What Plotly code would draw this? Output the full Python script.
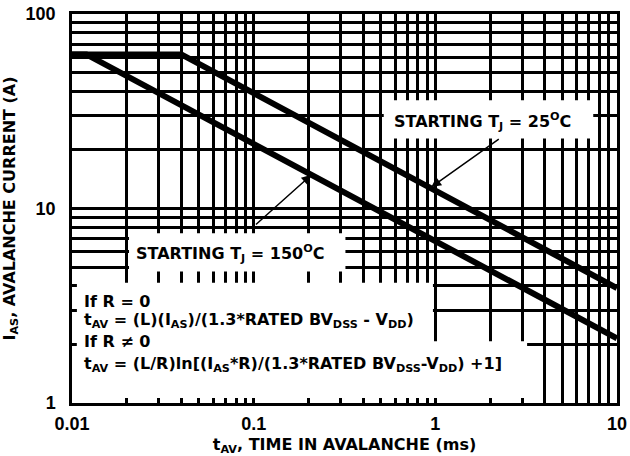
import numpy as np
import plotly.graph_objects as go

# Unclamped inductive switching capability: avalanche current vs. time in avalanche
t_25 = [0.01, 0.04, 10]       # ms
i_25 = [62, 62, 3.9]          # A
t_150 = [0.01, 0.012, 10]     # ms
i_150 = [62, 62, 2.15]        # A

x_ticks = [0.01, 0.1, 1, 10]
x_tick_text = ["0.01", "0.1", "1", "10"]
y_ticks = [1, 10, 100]
y_tick_text = ["1", "10", "100"]

X_MIN, X_MAX = 0.01, 10
Y_MIN, Y_MAX = 1, 100

W, H = 630, 456
M_L, M_R, M_T, M_B = 72, 3, 14, 53
PLOT_W = W - M_L - M_R
PLOT_H = H - M_T - M_B

TICK_FONT = "Liberation Sans, Arial, Helvetica, sans-serif"
TEXT_FONT = "DejaVu Sans, Liberation Sans, Arial, sans-serif"
INK = "black"


def xp(t):
    """Time (ms) -> paper fraction on the log x axis."""
    return float(np.log10(t / X_MIN) / np.log10(X_MAX / X_MIN))


def yp(i):
    """Current (A) -> paper fraction on the log y axis."""
    return float(np.log10(i / Y_MIN) / np.log10(Y_MAX / Y_MIN))


def minor_vals(lo_exp, hi_exp):
    return [m * 10.0 ** k for k in range(lo_exp, hi_exp) for m in range(2, 10)]


fig = go.Figure()
for t, i in ((t_25, i_25), (t_150, i_150)):
    fig.add_trace(go.Scatter(
        x=t, y=i, mode="lines",
        line=dict(color=INK, width=6),
        showlegend=False, hoverinfo="skip",
    ))

axis_common = dict(
    type="log",
    showline=True, linecolor=INK, linewidth=2.5, mirror=True,
    showgrid=True, gridcolor=INK, gridwidth=2.5,
    ticks="inside", ticklen=5, tickwidth=2, tickcolor=INK,
    zeroline=False,
    tickfont=dict(family=TICK_FONT, size=18, color=INK, weight="bold"),
)
title_font = dict(family=TEXT_FONT, size=16, color=INK, weight="bold")

fig.update_xaxes(
    **axis_common,
    range=[np.log10(X_MIN), np.log10(X_MAX)],
    tickvals=x_ticks, ticktext=x_tick_text,
    ticklabelstandoff=3, ticklabeloverflow="allow",
    minor=dict(tickvals=minor_vals(-2, 1), showgrid=True, gridcolor=INK,
               gridwidth=2.5, ticks="inside", ticklen=5, tickwidth=2,
               tickcolor=INK),
    title=dict(text="t<sub>AV</sub>, TIME IN AVALANCHE (ms)", standoff=6,
               font=title_font),
)
fig.update_yaxes(
    **axis_common,
    range=[np.log10(Y_MIN), np.log10(Y_MAX)],
    tickvals=y_ticks, ticktext=y_tick_text,
    ticklabelstandoff=10, ticklabeloverflow="allow",
    minor=dict(tickvals=minor_vals(0, 2), showgrid=True, gridcolor=INK,
               gridwidth=2.5, ticks="inside", ticklen=5, tickwidth=2,
               tickcolor=INK),
    title=dict(text="I<sub>AS</sub>, AVALANCHE CURRENT (A)", standoff=8,
               font=title_font),
)

# White panels that clear the grid behind the labels and the equations.
# Panels touching the frame stop a few pixels short of it so the grid
# stubs remain as inside tick marks.
GX = 5.0 / PLOT_W
GY = 5.0 / PLOT_H
panels = [
    # (t0, t1, i0, i1, inset_left, inset_bottom)
    (0.0206, 0.32, 4.75, 7.45, False, False),   # 150 C label
    (0.01, 0.97, 1.0, 4.15, True, True),        # equation block, upper part
    (0.01, 3.2, 1.0, 2.08, True, True),         # equation block, long last line
    (0.52, 7.4, 22.9, 36.0, False, False),      # 25 C label
]
for t0, t1, i0, i1, inset_l, inset_b in panels:
    fig.add_shape(type="rect", xref="paper", yref="paper",
                  x0=xp(t0) + (GX if inset_l else 0), x1=xp(t1),
                  y0=yp(i0) + (GY if inset_b else 0), y1=yp(i1),
                  fillcolor="white", line=dict(width=0), layer="above")

label_font = dict(family=TEXT_FONT, size=16, color=INK, weight="bold")

fig.add_annotation(text="STARTING T<sub>J</sub> = 25<sup>O</sup>C",
                   xref="paper", yref="paper", x=xp(1.82), y=yp(28.1),
                   xanchor="center", yanchor="middle",
                   showarrow=False, font=label_font)
fig.add_annotation(text="STARTING T<sub>J</sub> = 150<sup>O</sup>C",
                   xref="paper", yref="paper", x=xp(0.0742), y=yp(5.9),
                   xanchor="center", yanchor="middle",
                   showarrow=False, font=label_font)

# Leader arrows from the labels to their curves
fig.add_annotation(text="", xref="paper", yref="paper",
                   x=xp(0.95), y=yp(12.9), ax=69, ay=-49,
                   showarrow=True, arrowhead=2, arrowsize=1.3,
                   arrowwidth=1.5, arrowcolor=INK)
fig.add_annotation(text="", xref="paper", yref="paper",
                   x=xp(0.208), y=yp(14.9), ax=-57, ay=51,
                   showarrow=True, arrowhead=2, arrowsize=1.3,
                   arrowwidth=1.5, arrowcolor=INK)

equations = [
    ("If R = 0", 3.32),
    ("t<sub>AV</sub> = (L)(I<sub>AS</sub>)/(1.3*RATED BV<sub>DSS</sub> - V<sub>DD</sub>)", 2.67),
    ("If R \u2260 0", 2.06),
    ("t<sub>AV</sub> = (L/R)ln[(I<sub>AS</sub>*R)/(1.3*RATED BV<sub>DSS</sub>-V<sub>DD</sub>) +1]", 1.57),
]
for text, level in equations:
    fig.add_annotation(text=text, xref="paper", yref="paper",
                       x=xp(0.0114), y=yp(level), xanchor="left",
                       yanchor="middle", showarrow=False, font=label_font)

fig.update_layout(
    width=W, height=H,
    margin=dict(l=M_L, r=M_R, t=M_T, b=M_B),
    paper_bgcolor="white", plot_bgcolor="white",
    font=dict(family=TEXT_FONT, color=INK),
)

fig.write_html("out.html")
